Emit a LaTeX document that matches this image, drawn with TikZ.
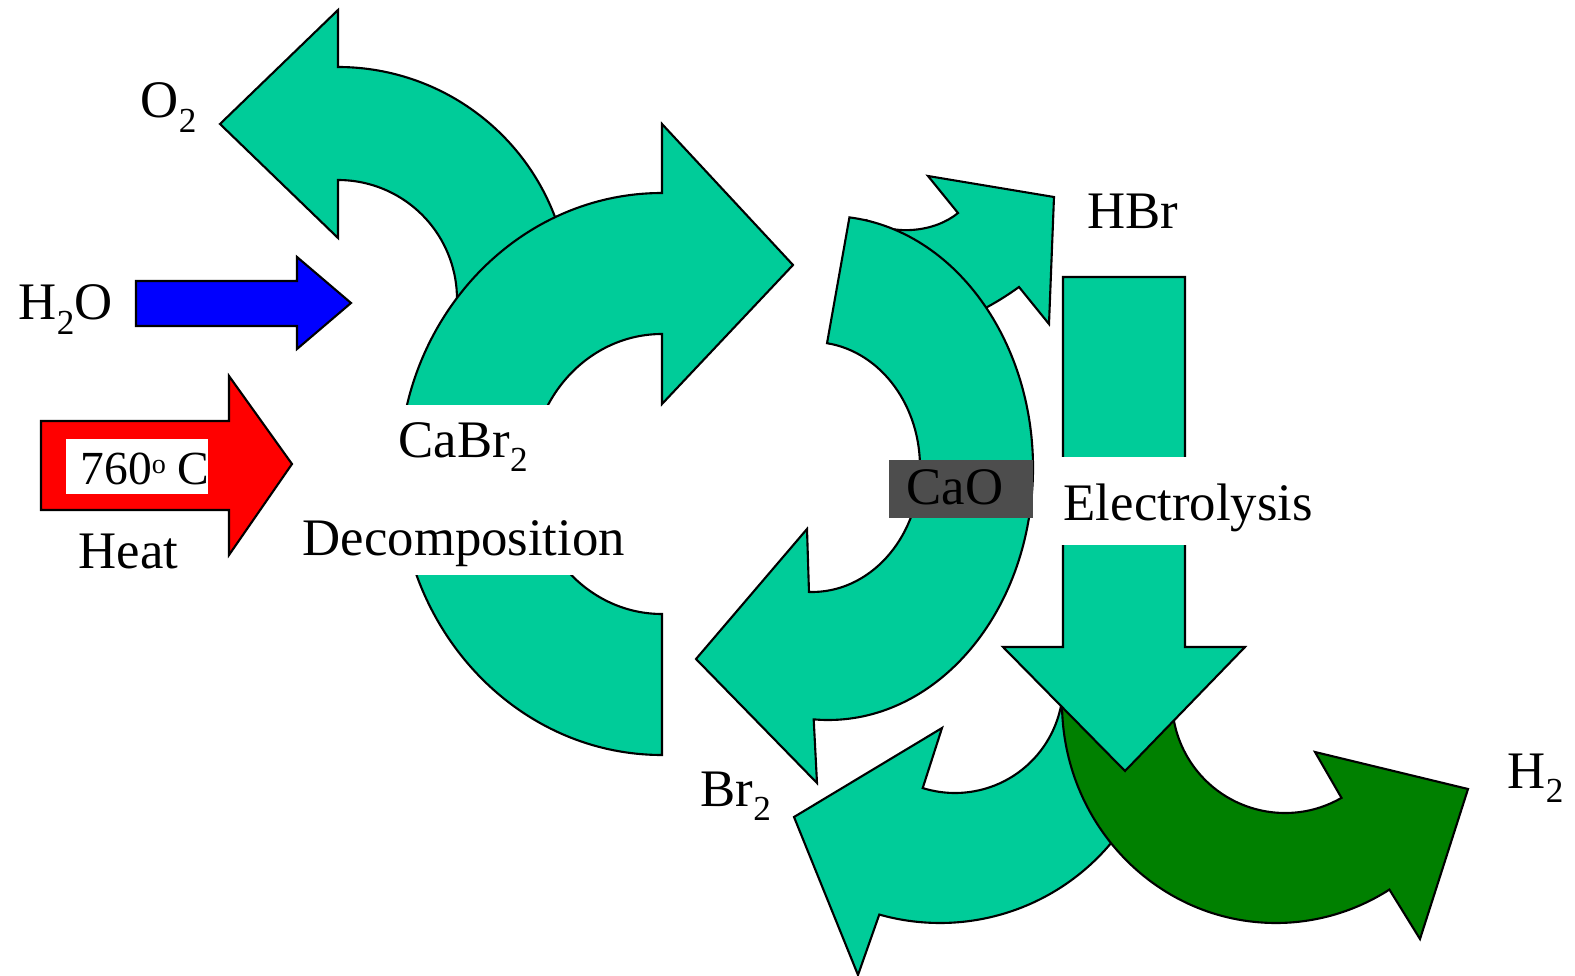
\documentclass[tikz,border=0pt]{standalone}
\usepackage{fontspec}
\setmainfont{Liberation Serif}
\usetikzlibrary{calc}
\definecolor{cycteal}{HTML}{00CC99}
\definecolor{cycgreen}{HTML}{008000}
\definecolor{cycgray}{HTML}{4D4D4D}
\newcommand{\chemsub}[1]{\raisebox{-0.27em}{\fontsize{10}{12}\selectfont #1}}
\newcommand{\degsup}[1]{\raisebox{0.23em}{\fontsize{8}{10}\selectfont #1}}

\begin{document}
\begin{tikzpicture}[
			x=0.01cm, y=-0.01cm,
			every node/.style={font=\fontsize{15}{18}\selectfont, inner sep=0pt},
			shape line/.style={draw=black, line width=0.6pt, line join=miter},
			tealarrow/.style={shape line, fill=cycteal},
			label text/.style={anchor=base west}
			]
			\useasboundingbox (0,0) rectangle (1575,976);

			\coordinate (otwo) at (338,299);
			\coordinate (caoout) at (828,468);
			\coordinate (caoin) at (812,467);
			\coordinate (brout) at (940,700);
			\coordinate (brin) at (955,685);
			\coordinate (htwoout) at (1276,703);
			\coordinate (htwoin) at (1285,700);

			% decomposition loop
			\draw[tealarrow] (338,10) -- (220,124) -- (338,238) -- (338,180)
				arc[start angle=-90, end angle=10, radius=119]
				-- ($(otwo)+(10:232)$)
				arc[start angle=10, end angle=-90, radius=232] -- cycle;
			\draw[tealarrow] (662,755) arc[start angle=90, end angle=270, x radius=263, y radius=281]
				-- (662,124) -- (793,265) -- (662,404) -- (662,334)
				arc[start angle=270, end angle=90, x radius=131, y radius=140] -- cycle;
			\fill[white] (296,405) rectangle (630,575);
			\node[label text] (cabr) at (398,457) {CaBr\chemsub{2}};
			\node[label text] (decomp) at (302,555) {Decomposition};

			% inputs
			\draw[shape line, fill=blue] (136,281) -- (297,281) -- (297,257) -- (351,303)
				-- (297,349) -- (297,326) -- (136,326) -- cycle;
			\draw[shape line, fill=red] (41,421) -- (229,421) -- (229,376) -- (292,464)
				-- (229,555) -- (229,510) -- (41,510) -- cycle;
			\fill[white] (66,439) rectangle (208,494);
			\begin{scope}
				\clip (66,439) rectangle (208,494);
				\node[label text, font=\fontsize{13.5}{16}\selectfont] (temp) at (80,484) {760\degsup{o} C};
			\end{scope}

			% hydrolysis loop
			\draw[tealarrow] (880,250) -- (868,221) .. controls (895,236) and (935,232) .. (958,213)
				-- (928,176) -- (1054,197) -- (1049,324) -- (1019,287)
				.. controls (1005,297) and (995,303) .. (980,311) -- (960,322) -- cycle;
			\draw[tealarrow] ($(caoout)+(-84:205 and 252)$)
				arc[start angle=-84, end angle=94, x radius=205, y radius=252]
				-- (817,783) -- (696,659) -- (807,529)
				-- ($(caoin)+(91.6:108 and 125)$)
				arc[start angle=91.6, end angle=-82, x radius=108, y radius=125] -- cycle;
			\fill[cycgray] (889,460) rectangle (1033,518);
			\node[label text] (cao) at (906,504) {CaO};

			% electrolysis
			\draw[tealarrow] (942,728) -- (794,817) -- (858,975)
				-- ($(brout)+(105.8:223)$)
				arc[start angle=105.8, end angle=10, radius=223]
				-- ($(brin)+(-10:108)$)
				arc[start angle=-10, end angle=107.4, radius=108] -- cycle;
			\draw[shape line, fill=cycgreen] ($(htwoout)+(180:214 and 220)$)
				arc[start angle=180, end angle=58, x radius=214, y radius=220]
				-- (1420,939) -- (1468,789) -- (1315,752)
				-- ($(htwoin)+(60:113)$)
				arc[start angle=60, end angle=180, radius=113] -- cycle;
			\draw[tealarrow] (1063,277) -- (1185,277) -- (1185,647) -- (1245,647)
				-- (1125,771) -- (1003,647) -- (1063,647) -- cycle;
			\fill[white] (1059,457) rectangle (1315,545);
			\node[label text] (electro) at (1063,521) {Electrolysis};

			\node[label text] (oxy) at (140,118) {O\chemsub{2}};
			\node[label text] (water) at (18,320) {H\chemsub{2}O};
			\node[label text] (heat) at (78,568) {Heat};
			\node[label text] (hbr) at (1087,229) {HBr};
			\node[label text] (brom) at (700,806) {Br\chemsub{2}};
			\node[label text] (hyd) at (1507,788) {H\chemsub{2}};

			\end{tikzpicture}
\end{document}
